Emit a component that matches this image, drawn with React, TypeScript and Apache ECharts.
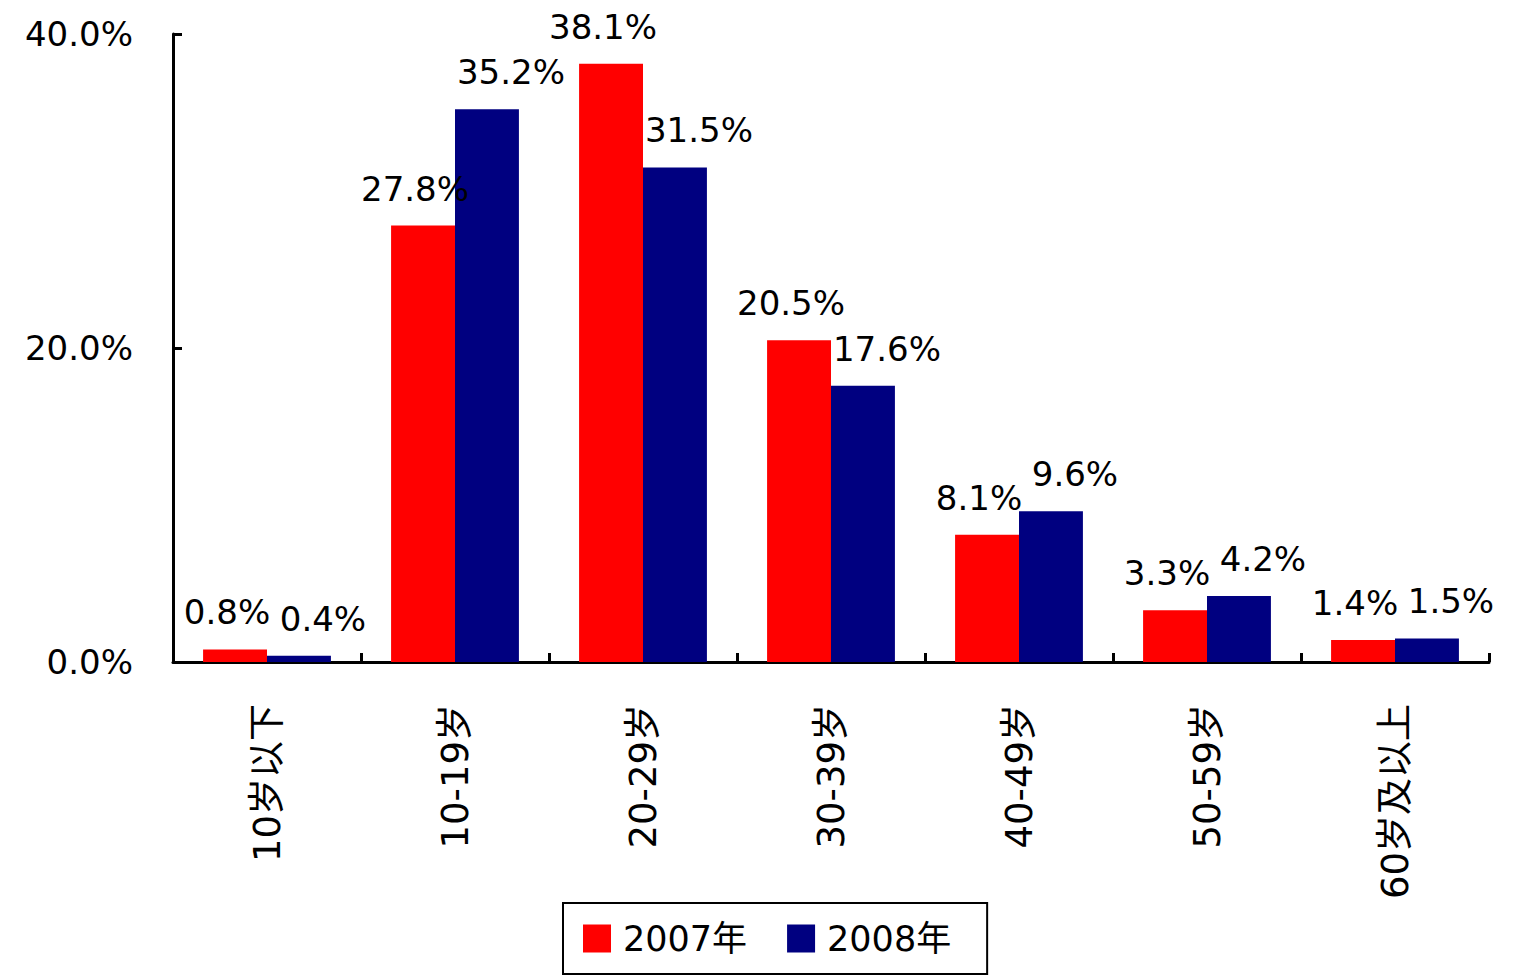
import React, { useEffect, useRef } from "react";
import * as echarts from "echarts";

const categories = ["10岁以下", "10-19岁", "20-29岁", "30-39岁", "40-49岁", "50-59岁", "60岁及以上"];
const values2007 = [0.8, 27.8, 38.1, 20.5, 8.1, 3.3, 1.4];
const values2008 = [0.4, 35.2, 31.5, 17.6, 9.6, 4.2, 1.5];
const seriesNames = ["2007年", "2008年"];
const yTicks = [0, 20, 40];

const FONT = "'DejaVu Sans', 'Noto Sans CJK SC', sans-serif";

export default function App() {
  const ref = useRef<HTMLDivElement>(null);
  useEffect(() => {
    if (!ref.current) return;
    const chart = echarts.init(ref.current, undefined, { renderer: "svg" });
    const labelBase = {
      show: true,
      position: "top" as const,
      distance: 20,
      color: "#000",
      fontFamily: FONT,
      fontSize: 34,
      formatter: (p: any) => `${Number(p.value).toFixed(1)}%`,
    };
    chart.setOption({
      animation: false,
      backgroundColor: "#fff",
      grid: { left: 173, right: 28, top: 34, bottom: 316 },
      legend: {
        left: 563,
        top: 903,
        data: seriesNames,
        orient: "horizontal",
        itemWidth: 28,
        itemHeight: 28,
        itemGap: 40,
        borderColor: "#000",
        borderWidth: 2,
        padding: [18, 36, 18, 20],
        icon: "rect",
        textStyle: { fontFamily: FONT, fontSize: 35, color: "#000", padding: [0, 0, 0, 7] },
      },
      xAxis: {
        type: "category",
        data: categories,
        axisLine: { show: true, lineStyle: { color: "#000", width: 3 } },
        axisTick: { show: true, inside: true, length: 9, lineStyle: { color: "#000", width: 3 } },
        axisLabel: {
          rotate: 90,
          margin: 42,
          interval: 0,
          color: "#000",
          fontFamily: FONT,
          fontSize: 37,
        },
      },
      yAxis: {
        type: "value",
        min: yTicks[0],
        max: yTicks[yTicks.length - 1],
        interval: yTicks[1] - yTicks[0],
        splitLine: { show: false },
        axisLine: { show: true, lineStyle: { color: "#000", width: 3 } },
        axisTick: { show: true, inside: true, length: 9, lineStyle: { color: "#000", width: 3 } },
        axisLabel: {
          margin: 40,
          color: "#000",
          fontFamily: FONT,
          fontSize: 34,
          formatter: (v: number) => `${v.toFixed(1)}%`,
        },
      },
      series: [
        {
          name: seriesNames[0],
          type: "bar",
          data: values2007,
          itemStyle: { color: "#FF0000" },
          barGap: "0%",
          barCategoryGap: "32%",
          label: { ...labelBase, offset: [-8, 0] },
        },
        {
          name: seriesNames[1],
          type: "bar",
          data: values2008,
          itemStyle: { color: "#000080" },
          barGap: "0%",
          barCategoryGap: "32%",
          label: { ...labelBase, offset: [24, 0] },
        },
      ],
    });
    return () => chart.dispose();
  }, []);
  return (
    <div
      ref={ref}
      style={{ position: "fixed", left: 0, top: 0, width: 1517, height: 978, background: "#fff" }}
    />
  );
}
